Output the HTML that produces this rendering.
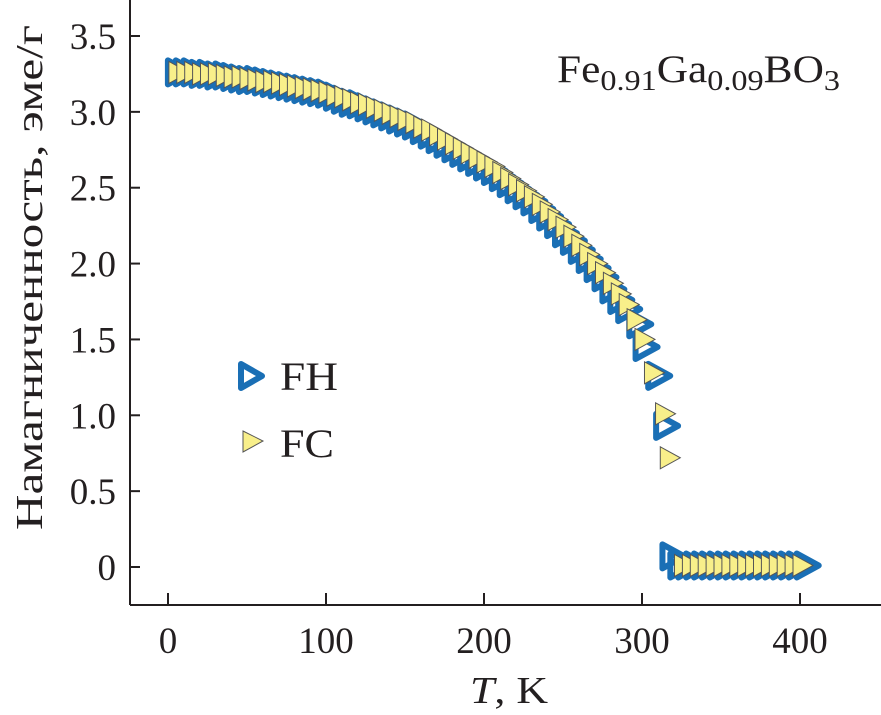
<!DOCTYPE html>
<html><head><meta charset="utf-8"><style>
html,body{margin:0;padding:0;background:#fff;}
svg{display:block;font-family:"Liberation Serif","DejaVu Serif",serif;}
</style></head><body>
<svg id="chart" width="881" height="715" viewBox="0 0 881 715">
<g id="axes"></g>
<g id="marks"></g>
<text x="557" y="82" font-size="39" fill="#231f20" textLength="283" lengthAdjust="spacingAndGlyphs">Fe<tspan font-size="29" dy="8">0.91</tspan><tspan dy="-8">Ga</tspan><tspan font-size="29" dy="8">0.09</tspan><tspan dy="-8">BO</tspan><tspan font-size="29" dy="8">3</tspan></text>
<g>
<path d="M241,364 L262,376 L241,388 Z" fill="none" stroke="#1a6fb5" stroke-width="6" stroke-linejoin="round"/>
<text x="280" y="390" font-size="40" fill="#231f20" textLength="58" lengthAdjust="spacingAndGlyphs">FH</text>
<path d="M243,431 L263,441 L243,452 Z" fill="#f8ef8a" stroke="#555" stroke-width="1"/>
<text x="280" y="457" font-size="40" fill="#231f20" textLength="54" lengthAdjust="spacingAndGlyphs">FC</text>
</g>
<text x="470" y="703" font-size="38" fill="#231f20" textLength="78" lengthAdjust="spacingAndGlyphs"><tspan font-style="italic">T</tspan>, K</text>
<text transform="translate(42,530) rotate(-90)" font-size="38" fill="#231f20" textLength="505" lengthAdjust="spacingAndGlyphs">Намагниченность, эме/г</text>
</svg>
<script>
const xTicks=[0,100,200,300,400];
const yTicks=[0,0.5,1.0,1.5,2.0,2.5,3.0,3.5];
const yTickLabels=["0","0.5","1.0","1.5","2.0","2.5","3.0","3.5"];
const fhT=[5,10,15,20,25,30,35,40,45,50,55,60,65,70,75,80,85,90,95,100,105,110,115,120,125,130,135,140,145,150,155,160,165,170,175,180,185,190,195,200,205,210,215,220,225,230,235,240,245,250,255,260,265,270,275,280,285,290,297,301,309,314,318,323,328,333,338,343,348,353,358,363,368,373,378,383,388,393,398,403];
const fhM=[3.26,3.26,3.26,3.25,3.25,3.24,3.24,3.23,3.22,3.21,3.21,3.20,3.19,3.18,3.17,3.16,3.15,3.14,3.13,3.12,3.10,3.08,3.06,3.05,3.03,3.01,2.99,2.97,2.95,2.93,2.91,2.88,2.85,2.82,2.79,2.76,2.73,2.70,2.67,2.64,2.61,2.57,2.53,2.49,2.45,2.41,2.36,2.31,2.26,2.20,2.15,2.09,2.03,1.97,1.91,1.83,1.76,1.70,1.60,1.45,1.26,0.93,0.07,0.01,0.01,0.01,0.01,0.01,0.01,0.01,0.01,0.01,0.01,0.01,0.01,0.01,0.01,0.01,0.01,0.01];
const fcT=[5,10,15,20,25,30,35,40,45,50,55,60,65,70,75,80,85,90,95,100,105,110,115,120,125,130,135,140,145,150,155,160,165,170,175,180,185,190,195,200,205,210,215,220,225,230,235,240,245,250,255,260,265,270,275,280,285,290,295,300,306,313,316,325,330,335,340,345,350,355,360,365,370,375,380,385,390,395,400];
const fcM=[3.26,3.26,3.26,3.25,3.25,3.25,3.24,3.23,3.23,3.22,3.21,3.20,3.20,3.19,3.18,3.17,3.16,3.15,3.14,3.13,3.11,3.10,3.08,3.06,3.05,3.03,3.01,2.99,2.97,2.95,2.93,2.90,2.88,2.85,2.82,2.79,2.76,2.73,2.70,2.67,2.64,2.60,2.56,2.52,2.48,2.44,2.39,2.34,2.29,2.24,2.18,2.12,2.06,2.00,1.94,1.87,1.80,1.73,1.63,1.50,1.28,1.01,0.72,0.01,0.01,0.01,0.01,0.01,0.01,0.01,0.01,0.01,0.01,0.01,0.01,0.01,0.01,0.01,0.01];
const NS='http://www.w3.org/2000/svg';
const X0=130,Y0=605;
function sx(t){return 168+t*(800-168)/400;}
function sy(m){return 567-m*(567-36)/3.5;}
function mk(tag,attrs,parent){const e=document.createElementNS(NS,tag);for(const k in attrs)e.setAttribute(k,attrs[k]);parent.appendChild(e);return e;}
const axes=document.getElementById('axes');
let l=mk('line',{x1:X0,y1:0,x2:X0,y2:Y0,stroke:'#231f20','stroke-width':2},axes);


l=mk('line',{x1:X0,y1:Y0,x2:881,y2:Y0,stroke:'#231f20','stroke-width':2},axes);


yTicks.forEach((v,i)=>{
 const t=mk('line',{x1:X0,y1:sy(v),x2:X0+10,y2:sy(v),stroke:'#231f20','stroke-width':2},axes);
 
 
 const tx=mk('text',{x:116,y:sy(v)+13,'font-size':37,'text-anchor':'end',fill:'#231f20'},axes);
 tx.textContent=yTickLabels[i];
 
 
});
xTicks.forEach(v=>{
 const t=mk('line',{x1:sx(v),y1:Y0,x2:sx(v),y2:Y0-12,stroke:'#231f20','stroke-width':2},axes);
 
 
 const tx=mk('text',{x:sx(v),y:653,'font-size':37,'text-anchor':'middle',fill:'#231f20'},axes);
 tx.textContent=String(v);
 
 
});
const marks=document.getElementById('marks');
fhT.forEach((t,i)=>{
 const x=sx(t),y=sy(fhM[i]);
 const p=mk('path',{d:`M${x-8},${y-12} L${x+14},${y} L${x-8},${y+12} Z`,fill:'none',stroke:'#1a6fb5','stroke-width':6,'stroke-linejoin':'round'},marks);
 
 
});
fcT.forEach((t,i)=>{
 const x=sx(t),y=sy(fcM[i]);
 const p=mk('path',{d:`M${x-7},${y-11} L${x+13},${y} L${x-7},${y+11} Z`,fill:'#f8ef8a',stroke:'#555','stroke-width':1},marks);
 
 
});
</script>
</body></html>
